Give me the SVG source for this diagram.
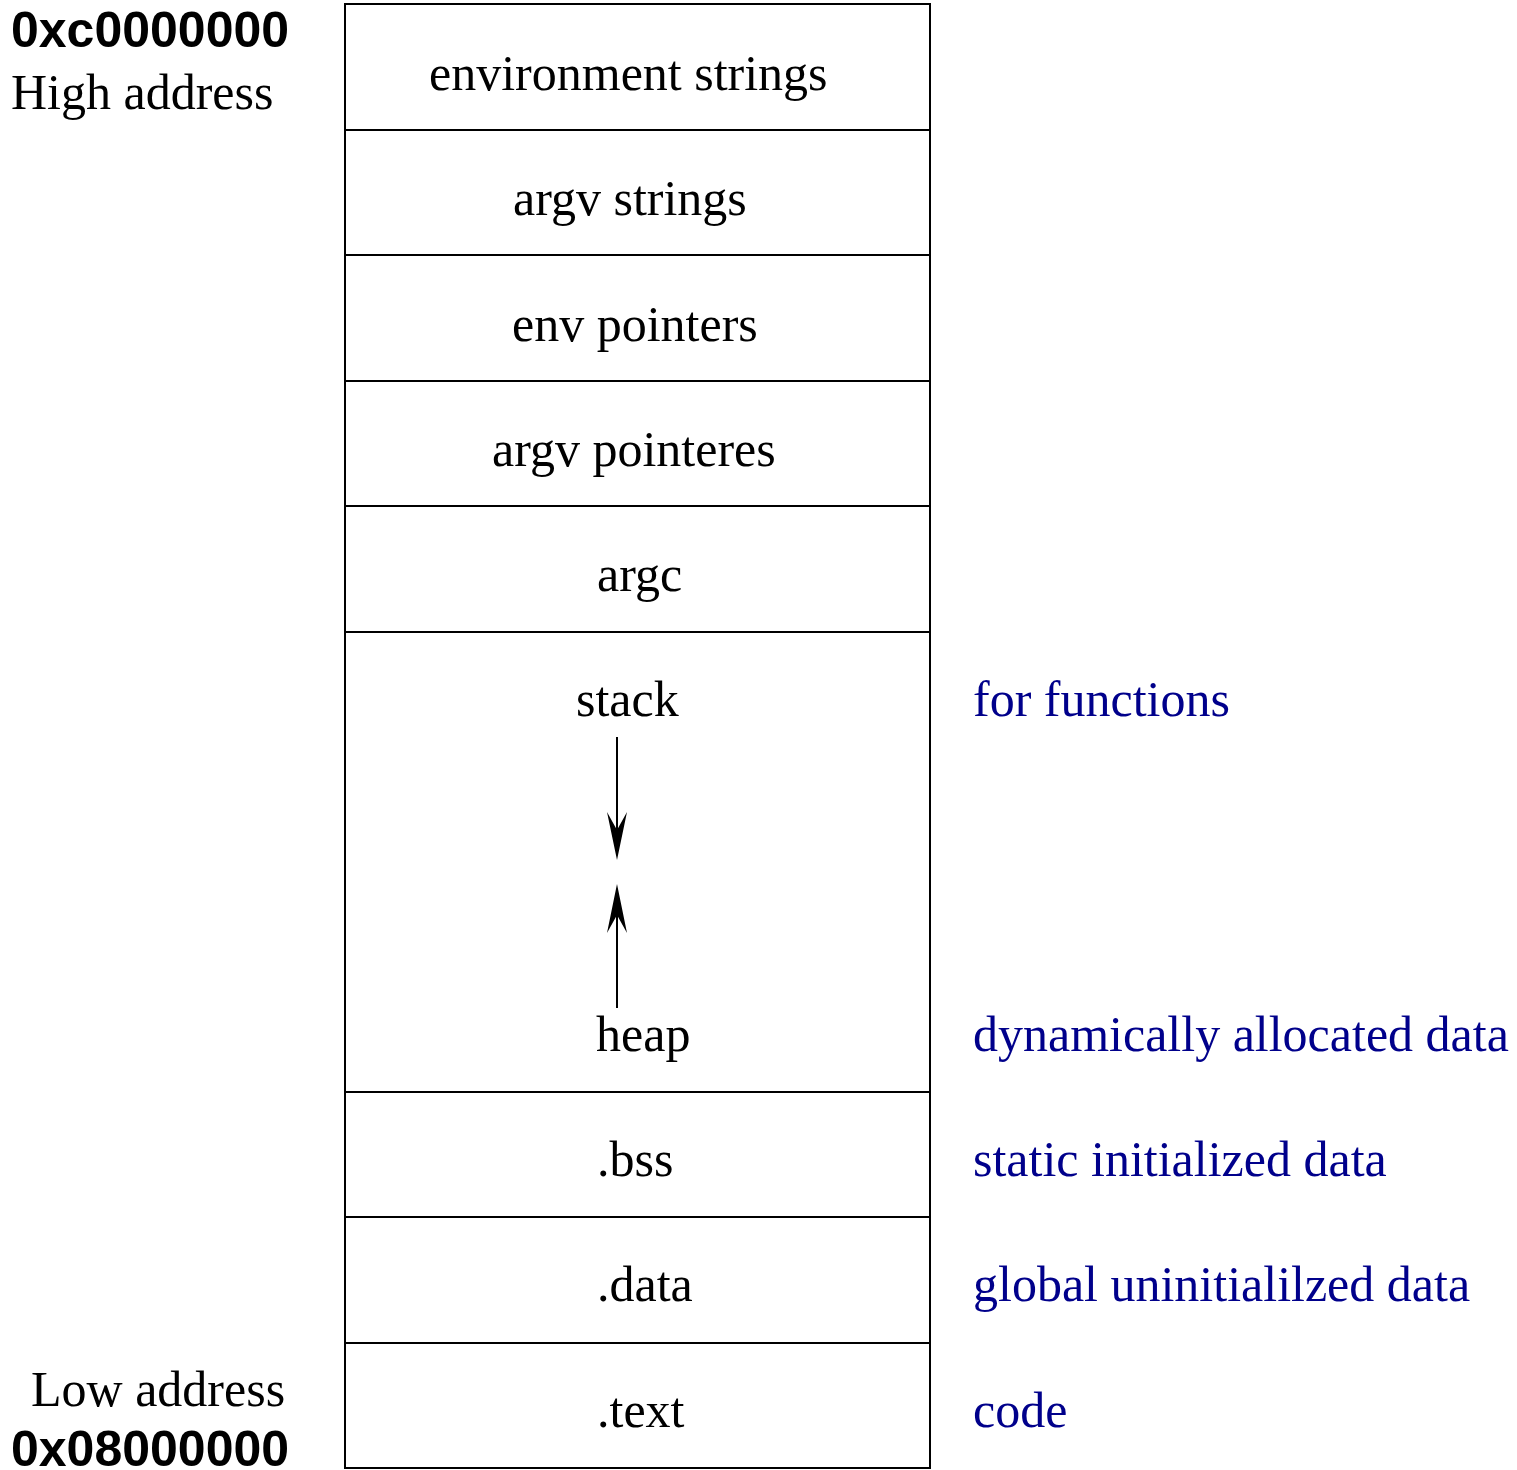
<svg xmlns="http://www.w3.org/2000/svg" width="1517" height="1470" viewBox="0 0 1517 1470">
<style>
.cell{fill:#fff;stroke:#000;stroke-width:2}
.t{font-family:"Liberation Serif","Times New Roman",serif;font-size:50px;fill:#000}
.b{font-family:"Liberation Serif","Times New Roman",serif;font-size:50px;fill:#00008b}
.h{font-family:"Liberation Sans",Arial,sans-serif;font-weight:bold;font-size:50px;fill:#000}
.c{stroke:#000;stroke-width:2;fill:none}
</style>
<rect width="1517" height="1470" fill="#fff"/>
<g id="labels">
<text class="h" x="11" y="47">0xc0000000</text>
<text class="t" x="11" y="109">High address</text>
<text class="t" x="31" y="1406">Low address</text>
<text class="h" x="11" y="1466">0x08000000</text>
</g>
<g id="env-strings"><rect class="cell" x="345" y="4" width="585" height="126"/><text class="t" x="429" y="90">environment strings</text></g>
<g id="argv-strings"><rect class="cell" x="345" y="130" width="585" height="125"/><text class="t" x="513" y="215">argv strings</text></g>
<g id="env-pointers"><rect class="cell" x="345" y="255" width="585" height="126"/><text class="t" x="512" y="341">env pointers</text></g>
<g id="argv-pointers"><rect class="cell" x="345" y="381" width="585" height="125"/><text class="t" x="492" y="466">argv pointeres</text></g>
<g id="argc"><rect class="cell" x="345" y="506" width="585" height="126"/><text class="t" x="597" y="591">argc</text></g>
<g id="stack-heap"><rect class="cell" x="345" y="632" width="585" height="460"/>
<text class="t" x="576" y="716">stack</text>
<text class="t" x="596" y="1051">heap</text>
<text class="b" x="973" y="716">for functions</text>
<text class="b" x="973" y="1051">dynamically allocated data</text>
</g>
<g id="bss"><rect class="cell" x="345" y="1092" width="585" height="125"/><text class="t" x="597" y="1176">.bss</text><text class="b" x="973" y="1176">static initialized data</text></g>
<g id="data"><rect class="cell" x="345" y="1217" width="585" height="126"/><text class="t" x="597" y="1301">.data</text><text class="b" x="973" y="1301">global uninitialilzed data</text></g>
<g id="text"><rect class="cell" x="345" y="1343" width="585" height="125"/><text class="t" x="597" y="1427">.text</text><text class="b" x="973" y="1427">code</text></g>
<g id="connectors">
<line class="c" x1="617" y1="737" x2="617" y2="830"/>
<path d="M617 860 L607 812 L617 830 L627 812 Z" fill="#000"/>
<line class="c" x1="617" y1="1008" x2="617" y2="915"/>
<path d="M617 884 L607 933 L617 915 L627 933 Z" fill="#000"/>
</g>
</svg>
